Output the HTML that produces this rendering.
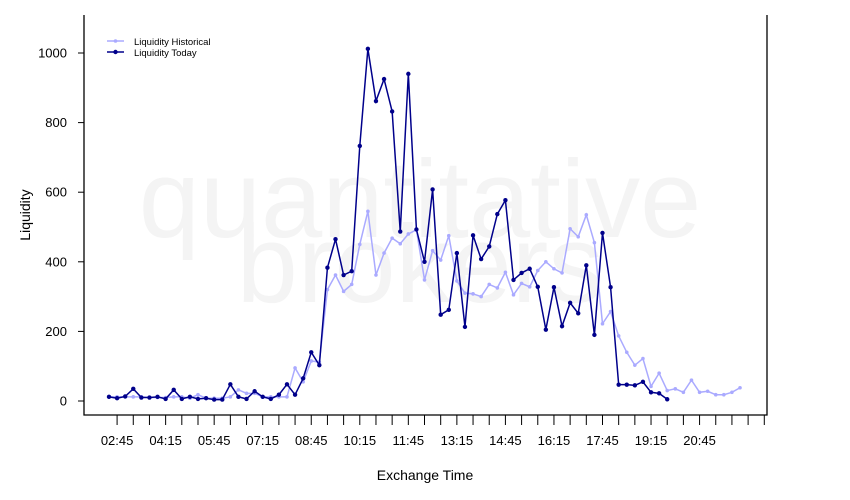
<!DOCTYPE html>
<html><head><meta charset="utf-8"><style>
html,body{margin:0;padding:0;background:#fff;}
svg{display:block;font-family:"Liberation Sans",sans-serif;}
</style></head><body>
<svg id="chart" width="850" height="500" viewBox="0 0 850 500" xmlns="http://www.w3.org/2000/svg">
<g fill="#f4f4f4" font-size="110">
<text x="420" y="237" text-anchor="middle">quantitative</text>
<text x="420" y="302" text-anchor="middle">brokers</text>
</g>
<g id="axes"></g>
<g id="series"></g>
<g font-size="9.5" fill="#000">
<line x1="107" y1="41" x2="124" y2="41" stroke="#aaaaff" stroke-width="1.5"/>
<circle cx="115.5" cy="41" r="1.8" fill="#aaaaff"/>
<text x="134" y="45">Liquidity Historical</text>
<line x1="107" y1="52" x2="124" y2="52" stroke="#00008b" stroke-width="1.5"/>
<circle cx="115.5" cy="52" r="2.2" fill="#00008b"/>
<text x="134" y="56">Liquidity Today</text>
</g>
<text x="425" y="480" text-anchor="middle" font-size="14">Exchange Time</text>
<text transform="translate(30,215) rotate(-90)" text-anchor="middle" font-size="14">Liquidity</text>
</svg>
<script>
const historical = [12,12,12,12,12,10,10,10,12,12,8,18,8,8,8,12,32,22,22,12,12,12,12,95,55,115,112,320,362,315,335,450,545,362,425,468,452,480,492,348,432,405,475,345,310,308,300,335,325,370,305,338,328,375,400,380,368,495,472,535,455,222,257,187,140,103,122,42,80,30,35,25,60,25,28,18,18,25,38];
const today = [12,8,13,35,10,10,12,6,32,6,12,6,8,4,4,48,12,6,28,12,6,18,48,18,65,140,103,383,465,362,373,733,1012,862,925,832,487,940,493,400,608,248,262,425,213,476,408,444,537,577,348,368,380,328,205,327,215,282,252,390,190,483,327,47,47,45,55,25,22,5];
const yTicks = [0,200,400,600,800,1000];
const xLabels = ["02:45","04:15","05:45","07:15","08:45","10:15","11:45","13:15","14:45","16:15","17:45","19:15","20:45"];

const NS="http://www.w3.org/2000/svg";
const x0=109, step=8.09;
function xs(i){return x0+i*step;}
function ys(v){return 401-v*0.348;}
function mk(tag,attrs,parent){const e=document.createElementNS(NS,tag);for(const k in attrs)e.setAttribute(k,attrs[k]);parent.appendChild(e);return e;}

const axes=document.getElementById('axes');
const frame=mk('path',{d:'M84,15 L84,415 L767,415 L767,15',fill:'none',stroke:'#000','stroke-width':1.3},axes);


yTicks.forEach(v=>{
  const t=mk('line',{x1:78,x2:84,y1:ys(v),y2:ys(v),stroke:'#000'},axes);
  
  
  const l=mk('text',{x:67,y:ys(v)+4.5,'text-anchor':'end','font-size':13},axes);
  l.textContent=v;
  
  
});
for(let k=0;;k++){
  const x=xs(1)+k*2*step; if(x>766)break;
  const t=mk('line',{x1:x,x2:x,y1:415,y2:425,stroke:'#000'},axes);
  
  
}
xLabels.forEach((s,j)=>{
  const l=mk('text',{x:xs(1+j*6),y:445,'text-anchor':'middle','font-size':13},axes);
  l.textContent=s;
  
  
});

const series=document.getElementById('series');
function draw(arr,color,r,name){
  const g=mk('g',{},series);
  
  
  const p=mk('polyline',{points:arr.map((v,i)=>xs(i)+','+ys(v)).join(' '),fill:'none',stroke:color,'stroke-width':1.5},g);
  
  
  arr.forEach((v,i)=>{
    const c=mk('circle',{cx:xs(i),cy:ys(v),r:r,fill:color},g);
    
    
  });
}
draw(historical,'#aaaaff',1.8,'historical-series');
draw(today,'#00008b',2.2,'today-series');
</script>
</body></html>
